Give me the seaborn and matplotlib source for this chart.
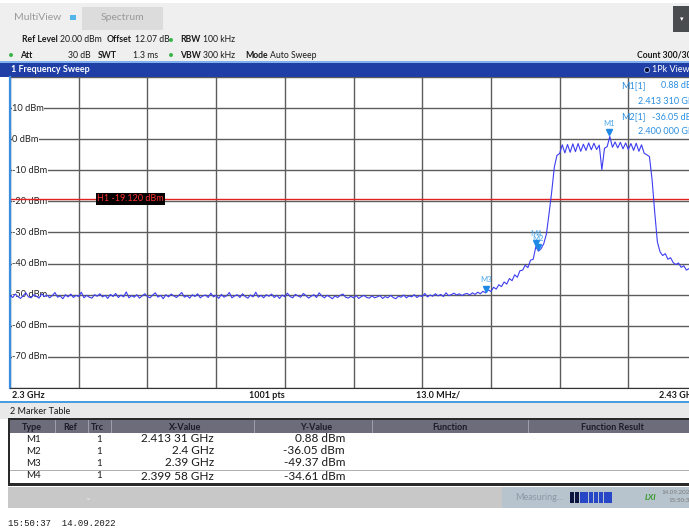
import numpy as np
import matplotlib
matplotlib.use("Agg")
import matplotlib.pyplot as plt
import matplotlib.transforms as mtransforms
from matplotlib.patches import Rectangle, Ellipse
import seaborn as sns

# trace, one value every 0.5 MHz from 2.300 to 2.430 GHz (dBm)
noise_floor = [
    -50.2, -50.9, -49.8, -50.6, -51.2, -50.3, -49.4, -50.7, -51.0, -50.0,
    -50.5, -51.1, -49.7, -50.6, -50.1, -51.0, -50.3, -49.3, -50.8, -50.4,
    -51.3, -50.0, -50.7, -49.8, -50.9, -50.2, -50.6, -49.2, -51.0, -50.2,
    -50.8, -51.1, -50.0, -50.5, -49.7, -50.7, -50.2, -51.2, -49.9, -50.6,
    -49.6, -50.9, -50.1, -50.7, -49.1, -51.0, -50.3, -50.8, -50.0, -51.1,
    -50.4, -49.7, -50.6, -51.0, -50.1, -49.4, -50.8, -50.2, -51.3, -50.0,
    -50.7, -49.8, -50.4, -50.9, -50.1, -49.3, -50.8, -50.3, -51.1, -50.0,
    -50.6, -49.7, -51.0, -50.4, -50.1, -50.9, -49.5, -50.7, -50.2, -51.2,
    -49.9, -50.8, -50.3, -49.3, -51.0, -50.4, -50.0, -50.9, -49.7, -50.6,
    -51.1, -50.1, -50.7, -49.2, -50.8, -50.2, -51.0, -50.0, -50.5, -49.8,
    -50.9, -50.2, -51.2, -50.1, -50.7, -49.5, -50.6, -51.0, -49.9, -50.4,
    -50.8, -49.6, -50.3, -51.1, -50.5, -50.0, -50.9, -49.4, -50.4, -51.0,
    -50.2, -50.7, -51.3, -50.4, -50.9, -50.2, -49.8, -50.8, -51.1, -50.5,
    -51.0, -50.3, -51.2, -50.6, -50.2, -50.9, -51.1, -50.4, -51.0, -50.7,
    -50.3, -51.2, -50.6, -51.0, -50.2, -50.9, -51.3, -50.5, -50.8, -50.1,
    -51.0, -50.4, -50.7, -50.0, -50.9, -50.3, -50.6, -49.6, -50.7, -50.1,
    -50.5, -49.7, -50.4, -49.9, -50.6, -49.4, -50.3, -50.0, -49.5, -50.1,
    -49.7, -50.3, -49.8,
]
rising_edge = [
    -49.6, -50.1, -49.4, -49.9, -49.2, -49.7, -48.9, -49.4, -48.4, -49.0,
    -47.6, -48.2, -46.8, -47.4, -45.9, -46.6, -44.8, -45.5, -43.6, -44.4,
    -42.3, -42.1, -40.5, -41.3, -38.9, -38.6, -34.6, -36.0, -35.2, -33.6,
    -30.5, -24.0, -17.0, -9.0, -5.2,
]
plateau = [
    -4.6, -1.8, -4.4, -1.7, -4.2, -1.5, -4.0, -1.4, -3.9, -1.6,
    -3.6, -1.2, -3.4, -1.3, -3.3, -1.9, -9.8, -2.9, -2.4, 0.88,
    -2.6, -0.9, -2.8, -1.0, -3.1, -1.2, -3.3, -1.4, -3.6, -1.3,
    -3.9, -1.8, -4.5, -5.0,
]
falling_edge = [
    -5.6, -13.0, -23.5, -33.0, -36.2, -37.4, -36.8, -38.6, -38.1, -39.7,
    -40.3, -39.8, -41.2, -40.7, -42.1, -41.6, -42.9, -43.4, -43.8,
]
level_dbm = noise_floor + rising_edge + plateau + falling_edge
start_ghz, stop_ghz = 2.3, 2.43
freq_ghz = np.linspace(start_ghz, stop_ghz, len(level_dbm))
sweep_points = 1001

marker_names = ["M1", "M2", "M3", "M4"]
marker_trc = [1, 1, 1, 1]
marker_freq_ghz = [2.41331, 2.4, 2.39, 2.39958]
marker_level_dbm = [0.88, -36.05, -49.37, -34.61]
marker_x_text = ["2.413 31 GHz", "2.4 GHz", "2.39 GHz", "2.399 58 GHz"]

h1_level = -19.12
ref_level = 20
y_grid_dbm = list(range(-80, 21, 10))
y_label_dbm = [10, 0, -10, -20, -30, -40, -50, -60, -70]

W, H = 689, 531
sns.set_style("white")
plt.rcParams["font.family"] = ["Lato", "DejaVu Sans"]

fig = plt.figure(figsize=(W / 100, H / 100), dpi=100)


def fx(x):
    return x / W


def fy(y):
    return 1 - y / H


def box(x0, y0, x1, y1, color, z=0):
    fig.add_artist(Rectangle((fx(x0), fy(y1)), (x1 - x0) / W, (y1 - y0) / H,
                             transform=fig.transFigure, facecolor=color,
                             edgecolor="none", zorder=z))


def txt(x, y, s, **kw):
    kw.setdefault("va", "center")
    kw.setdefault("fontsize", 6.5)
    kw.setdefault("color", "#1a1a1a")
    fig.text(fx(x), fy(y), s, **kw)


def dot(x, y, color, edge="none", r=2.3):
    fig.add_artist(Ellipse((fx(x), fy(y)), 2 * r / W, 2 * r / H,
                           transform=fig.transFigure, facecolor=color,
                           edgecolor=edge, lw=0.6, zorder=3))


# header
box(0, 3, W, 62, "#efefef")
box(82, 7, 163, 30, "#dcdcdc")
txt(14, 18, "MultiView", fontsize=7.5, color="#9a9a9a")
box(70, 15, 76, 20, "#52b6ea", z=2)
txt(122, 18, "Spectrum", fontsize=7.5, color="#9a9a9a", ha="center")
box(673, 6, W, 32, "#4a4d50")
txt(682, 19, "\u25be", fontsize=5, color="white", ha="center")

line1 = [(22, "Ref Level", "bold"), (60, "20.00 dBm", "normal"),
         (107, "Offset", "bold"), (135, "12.07 dB", "normal"),
         (180, "RBW", "bold"), (203, "100 kHz", "normal")]
for x, s, w in line1:
    txt(x, 40, s, fontweight=w, fontsize=6.2)
line2 = [(20, "Att", "bold"), (68, "30 dB", "normal"), (98, "SWT", "bold"),
         (133, "1.3 ms", "normal"), (180, "VBW", "bold"),
         (203, "300 kHz", "normal"), (245, "Mode", "bold"),
         (270, "Auto Sweep", "normal"), (637, "Count 300/300", "bold")]
for x, s, w in line2:
    txt(x, 55, s, fontweight=w, fontsize=6.2)
for x, y in [(171, 40), (11, 55), (171, 55)]:
    dot(x, y, "#3cb44b", r=2)

# window title bar
box(0, 61, W, 62.5, "#7fb2ec")
box(0, 62.5, W, 77, "#1f3fa6")
txt(11, 70, "1 Frequency Sweep", color="white", fontweight="bold")
dot(647, 70, "#0a1030", edge="#a9c2ff", r=2.6)
txt(652, 70, "1Pk View", color="white")

# spectrum plot
ax = fig.add_axes([fx(10), fy(388), 687 / W, 311 / H])
sns.lineplot(x=freq_ghz, y=level_dbm, ax=ax, color="#3d3df2", lw=0.8,
             estimator=None, zorder=3)
ax.set_xlim(start_ghz, stop_ghz)
ax.set_ylim(y_grid_dbm[0], ref_level)
ax.set_xticks(np.linspace(start_ghz, stop_ghz, 11))
ax.set_yticks(y_grid_dbm)
ax.tick_params(length=0, labelbottom=False, labelleft=False)
ax.set_xlabel("")
ax.set_ylabel("")
ax.set_axisbelow(True)
ax.grid(True, color="#5c5c5c", lw=1)
for side in ["top", "right"]:
    ax.spines[side].set_visible(False)
ax.spines["left"].set_color("#3a8ee0")
ax.spines["left"].set_linewidth(1.6)
ax.spines["bottom"].set_color("#333333")

ylab_trans = mtransforms.blended_transform_factory(ax.transAxes, ax.transData)
for v in y_label_dbm:
    ax.text(0.003, v, f"{v} dBm", transform=ylab_trans, ha="left", va="center",
            fontsize=6.7, color="#222222", zorder=2,
            bbox=dict(facecolor="white", edgecolor="none", pad=0.4))

ax.axhline(h1_level, color="#e52222", lw=1, zorder=2.5)
ax.text((97 - 10) / 687, h1_level, f"H1 {h1_level:.3f} dBm", transform=ylab_trans,
        ha="left", va="center", fontsize=6.5, color="#ff3030", zorder=4,
        bbox=dict(facecolor="black", edgecolor="none", pad=1))

tri_trans = mtransforms.offset_copy(ax.transData, fig=fig, x=0, y=4, units="dots")
ax.plot(marker_freq_ghz, marker_level_dbm, ls="none", marker="v", ms=5,
        color="#1e88e5", transform=tri_trans, zorder=5)
for name, f, v in zip(marker_names, marker_freq_ghz, marker_level_dbm):
    ax.annotate(name, (f, v), xytext=(0, 13), textcoords="offset pixels",
                ha="center", va="center", fontsize=5.5, color="#4aa6ea", zorder=5)

# marker readout, top right of the diagram
for i, y0 in [(0, 86), (1, 117)]:
    fs = f"{marker_freq_ghz[i]:.6f}"
    txt(621, y0, f"{marker_names[i]}[{marker_trc[i]}]", color="#2b8fe0")
    txt(699, y0, f"{marker_level_dbm[i]:.2f} dBm", color="#2b8fe0", ha="right")
    txt(699, y0 + 15, f"{fs[:5]} {fs[5:]} GHz", color="#2b8fe0", ha="right")

# frequency axis strip
box(8, 388, W, 401, "white")
box(0, 401, W, 403, "#4a9ee0")
span_mhz = (stop_ghz - start_ghz) * 1000 / 10
txt(12, 395, f"{start_ghz:.1f} GHz", fontweight="bold")
txt(267, 395, f"{sweep_points} pts", fontweight="bold", ha="center")
txt(438, 395, f"{span_mhz:.1f} MHz/", fontweight="bold", ha="center")
txt(697, 395, f"{stop_ghz:.2f} GHz", fontweight="bold", ha="right")

# marker table
box(0, 403, W, 419, "#e9e9e9")
txt(10, 411, "2 Marker Table")
box(8, 418, W, 420, "#2a2a2a")
box(10, 420, W, 433, "#6c6c7a")
for x in [55, 88, 111, 254, 372, 528]:
    box(x, 420, x + 1, 433, "#9d9dab", z=1)
headers = [(32, "Type"), (70, "Ref"), (97, "Trc"), (185, "X-Value"),
           (316, "Y-Value"), (450, "Function"), (612, "Function Result")]
for x, s in headers:
    txt(x, 427, s, ha="center", fontweight="bold", color="#1c1c28")
box(10, 433, W, 484, "white")
box(8, 418, 10, 486, "#2a2a2a")
box(10, 470, W, 471, "#b0b0b0")
box(8, 483, W, 486, "#2a2a2a")
row_y = [439, 451, 463, 476]
for y, name, trc, xs, lv in zip(row_y, marker_names, marker_trc, marker_x_text,
                                marker_level_dbm):
    txt(26, y, name, fontsize=7)
    txt(99, y, str(trc), fontsize=7, ha="center")
    txt(214, y, xs, fontsize=8.5, ha="right")
    txt(345, y, f"{lv:.2f} dBm", fontsize=8.5, ha="right")

# status bar
box(8, 487, 502, 508, "#c8c8c8")
box(502, 487, W, 508, "#b8c4cd")
txt(88, 497, "\u2304", fontsize=6, color="#e8e8e8", ha="center")
txt(515, 497, "Measuring...", color="#8a98a6")
for k in range(9):
    box(570 + k * 4.8, 492, 574 + k * 4.8, 503, "#0d1440" if k < 2 else "#2747c6", z=1)
txt(650, 497, "LXI", fontsize=6, color="#3a9a30", fontweight="bold",
    fontstyle="italic", ha="center")
txt(661, 492, "14.09.2022", fontsize=4.5, color="#7a7a7a")
txt(668, 501, "15:50:37", fontsize=4.5, color="#7a7a7a")

txt(8, 523, "15:50:37  14.09.2022", family="Liberation Mono", fontsize=6.5)

fig.savefig("out.png", dpi=100)
